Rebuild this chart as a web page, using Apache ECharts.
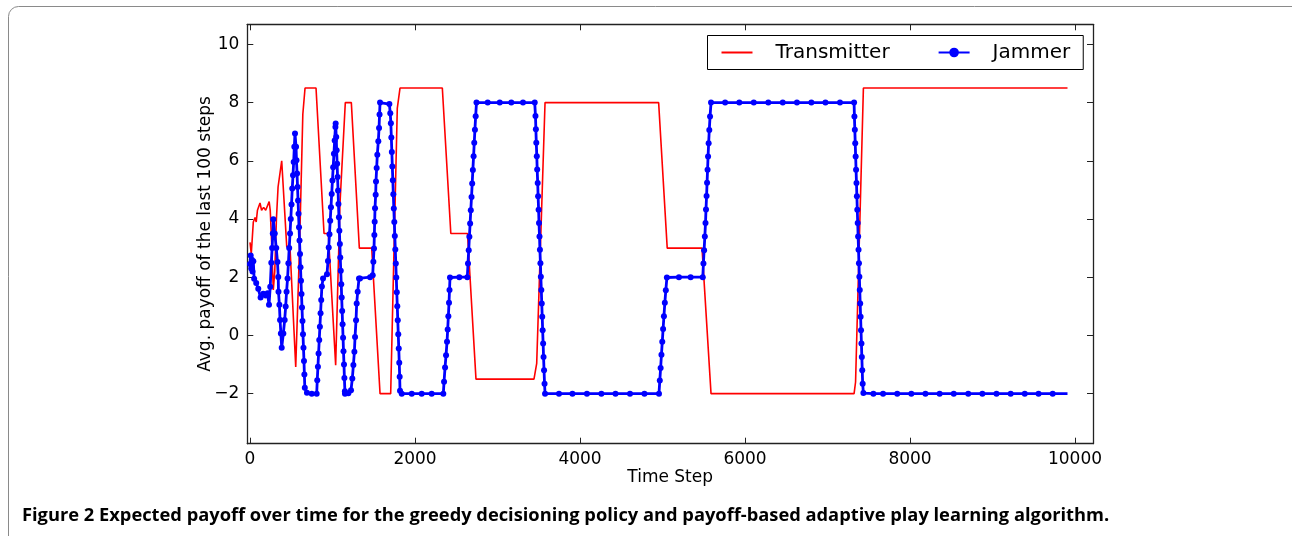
<!DOCTYPE html>
<html>
<head>
<meta charset="utf-8">
<script src="https://cdn.jsdelivr.net/npm/echarts@6/dist/echarts.min.js"></script>
<style>
  html, body { margin: 0; padding: 0; background: #fff; }
  #chart { width: 1292px; height: 536px; }
</style>
</head>
<body>
<div id="chart"></div>
<script>
// Average payoff over the last 100 steps, [time step, payoff]
const transmitter = [
  [0, 3.2], [15, 2.8], [40, 3.9], [61, 4.05], [75, 3.9], [90, 4.3], [121, 4.55],
  [140, 4.3], [165, 4.4], [190, 4.3], [210, 4.35], [232, 4.6], [245, 4.3],
  [262, 3.2], [282, 1.56], [300, 2.2], [320, 4.0], [340, 5.1], [384, 6.0],
  [445, 3.05], [485, 3.0], [554, -1.08], [600, 3.0], [640, 7.6], [667, 8.5],
  [800, 8.5], [897, 3.5], [949, 3.5], [1038, -1.02], [1090, 4.5], [1155, 8.0],
  [1228, 8.0], [1325, 3.0], [1475, 3.0], [1576, -2.0], [1705, -2.0],
  [1785, 7.8], [1818, 8.5], [2331, 8.5], [2434, 3.5], [2636, 3.5],
  [2739, -1.5], [3442, -1.5], [3475, -0.96], [3576, 8.0], [4953, 8.0],
  [5057, 3.0], [5479, 3.0], [5588, -2.0], [7322, -2.0], [7340, -1.6],
  [7435, 8.5], [9909, 8.5]
];

const jammer = [
  [0, 2.45], [8, 2.75], [15, 2.3], [22, 2.6], [30, 2.2], [40, 2.55], [50, 1.95],
  [75, 1.8], [100, 1.6], [128, 1.3], [160, 1.43], [190, 1.37], [213, 1.45], [230, 1.05],
  [245, 1.67], [258, 2.5], [268, 3.0], [276, 3.5], [282, 3.99],
  [300, 3.5], [318, 3.0], [333, 2.52], [342, 2.01], [345, 1.5], [356, 1.05],
  [364, 0.53], [374, 0.07], [384, -0.42],
  [404, 0.07], [420, 0.53], [432, 0.99], [443, 1.5], [455, 1.96], [465, 2.48],
  [475, 3.0], [485, 3.5], [494, 4.0], [503, 4.5], [512, 5.05], [521, 5.5],
  [529, 5.96], [537, 6.48], [545, 6.94],
  [558, 6.48], [563, 6.02], [570, 5.56], [576, 5.10], [582, 4.64], [588, 4.18],
  [594, 3.72], [600, 3.26], [606, 2.80], [612, 2.34], [618, 1.88], [624, 1.42],
  [630, 0.96], [636, 0.50], [642, 0.04], [648, -0.42], [654, -0.88], [659, -1.34],
  [664, -1.80], [690, -1.97], [748, -2.0], [808, -2.0],
  [815, -1.54], [823, -1.08], [831, -0.62], [839, -0.16], [847, 0.30], [855, 0.76],
  [863, 1.22], [871, 1.68], [885, 1.96], [933, 2.1],
  [945, 2.56], [954, 3.02], [963, 3.48], [972, 3.94], [981, 4.40], [990, 4.86],
  [999, 5.32], [1008, 5.78], [1017, 6.24], [1026, 6.70], [1035, 7.16], [1038, 7.28],
  [1045, 6.82], [1050, 6.36], [1056, 5.90], [1061, 5.44], [1067, 4.98], [1072, 4.52],
  [1078, 4.06], [1083, 3.60], [1089, 3.14], [1094, 2.68], [1100, 2.22], [1106, 1.76],
  [1111, 1.30], [1117, 0.84], [1122, 0.38], [1128, -0.08], [1133, -0.54], [1139, -1.00],
  [1144, -1.46], [1150, -1.92],
  [1151, -2.0], [1192, -1.99], [1224, -1.88], [1240, -1.48], [1253, -1.02],
  [1265, -0.56], [1273, -0.05], [1285, 0.52], [1293, 1.1], [1305, 1.5], [1321, 1.96],
  [1333, 1.96], [1455, 2.0], [1487, 2.07],
  [1495, 2.53], [1503, 2.99], [1507, 3.45], [1511, 3.91], [1515, 4.37], [1523, 4.83],
  [1527, 5.29], [1535, 5.75], [1543, 6.21], [1555, 6.67], [1564, 7.13], [1570, 7.59],
  [1576, 8.0], [1689, 7.95],
  [1700, 7.63], [1707, 7.29], [1713, 6.8], [1719, 6.3], [1725, 5.8], [1731, 5.33],
  [1737, 4.85], [1743, 4.36], [1749, 3.9], [1755, 3.42], [1761, 2.95], [1767, 2.47],
  [1773, 1.99], [1779, 1.48], [1785, 1.0], [1791, 0.52], [1797, 0.04], [1803, -0.45],
  [1809, -0.94], [1814, -1.42], [1818, -1.9],
  [1839, -2.0], [1960, -2.0], [2081, -2.0], [2202, -2.0], [2343, -2.0],
  [2352, -1.59], [2364, -1.1], [2376, -0.68], [2388, -0.22], [2396, 0.2], [2404, 0.66],
  [2412, 1.12], [2418, 1.56], [2424, 1.99],
  [2537, 2.0], [2634, 2.0],
  [2642, 2.47], [2651, 2.93], [2659, 3.39], [2668, 3.85], [2676, 4.3], [2685, 4.76],
  [2693, 5.22], [2701, 5.68], [2710, 6.16], [2718, 6.62], [2726, 7.07], [2735, 7.53],
  [2745, 8.0],
  [2881, 8.0], [3027, 8.0], [3167, 8.0], [3309, 8.0], [3451, 8.0],
  [3460, 7.54], [3465, 7.08], [3470, 6.62], [3476, 6.16], [3481, 5.70], [3487, 5.24],
  [3492, 4.78], [3498, 4.32], [3503, 3.86], [3509, 3.40], [3514, 2.94], [3520, 2.48],
  [3525, 2.02], [3531, 1.56], [3536, 1.10], [3542, 0.64], [3547, 0.18], [3553, -0.28],
  [3558, -0.74], [3564, -1.20], [3570, -1.66], [3576, -2.0],
  [3745, -2.0], [3908, -2.0], [4084, -2.0], [4259, -2.0], [4430, -2.0], [4606, -2.0],
  [4781, -2.0], [4957, -2.0],
  [4967, -1.55], [4977, -1.12], [4987, -0.66], [4997, -0.22], [5007, 0.22],
  [5017, 0.66], [5028, 1.12], [5040, 1.55], [5053, 1.99],
  [5199, 2.0], [5341, 2.0], [5488, 2.0],
  [5496, 2.47], [5504, 2.93], [5513, 3.40], [5521, 3.86], [5527, 4.33], [5534, 4.79],
  [5540, 5.25], [5546, 5.69], [5552, 6.15], [5559, 6.60], [5567, 7.06], [5576, 7.52],
  [5588, 8.0],
  [5759, 8.0], [5931, 8.0], [6106, 8.0], [6282, 8.0], [6457, 8.0], [6629, 8.0],
  [6804, 8.0], [6975, 8.0], [7151, 8.0], [7322, 8.0],
  [7326, 7.52], [7331, 7.07], [7336, 6.60], [7341, 6.15], [7346, 5.69], [7351, 5.24],
  [7356, 4.78], [7361, 4.32], [7366, 3.86], [7371, 3.40], [7376, 2.94], [7381, 2.48],
  [7386, 2.02], [7391, 1.56], [7396, 1.10], [7401, 0.64], [7406, 0.18], [7411, -0.28],
  [7416, -0.74], [7421, -1.20], [7426, -1.66], [7435, -1.98],
  [7556, -2.0], [7673, -2.0], [7845, -2.0], [8016, -2.0], [8187, -2.0], [8359, -2.0],
  [8530, -2.0], [8706, -2.0], [8877, -2.0], [9048, -2.0], [9220, -2.0], [9391, -2.0],
  [9558, -2.0], [9729, -2.0], [9909, -2.0]
];

const xTicks = [0, 2000, 4000, 6000, 8000, 10000];
const yTicks = [-2, 0, 2, 4, 6, 8, 10];
const seriesNames = ['Transmitter', 'Jammer'];
const xTitle = 'Time Step';
const yTitle = 'Avg. payoff of the last 100 steps';
const caption = 'Figure 2 Expected payoff over time for the greedy decisioning policy and payoff-based adaptive play learning algorithm.';

const FONT = 'DejaVu Sans';
const X_RANGE = [-33, 10218];
const Y_RANGE = [-3.72, 10.69];
const frameLine = { show: true, onZero: false, lineStyle: { color: '#222', width: 1.3 } };
const innerTicks = (vals) => ({ show: true, inside: true, length: 6, customValues: vals, lineStyle: { color: '#222', width: 1 } });
const minusSign = (v) => (v < 0 ? '\u2212' + Math.abs(v) : String(v));

const chart = echarts.init(document.getElementById('chart'), null, { renderer: 'canvas' });

chart.setOption({
  animation: false,
  backgroundColor: '#fff',
  grid: { left: 247.3, top: 24.3, width: 845.7, height: 419.4, containLabel: false },
  legend: {
    // the transmitter key is a plain line, the jammer key carries its marker
    data: [
      { name: seriesNames[0], itemStyle: { opacity: 0 } },
      { name: seriesNames[1] }
    ],
    left: 707.5, top: 35.5,
    itemWidth: 31, itemHeight: 12, itemGap: 48,
    padding: [7, 13, 7, 13],
    borderColor: '#000', borderWidth: 1,
    textStyle: { fontFamily: FONT, fontSize: 20, color: '#000', padding: [0, 0, 0, 18] }
  },
  xAxis: [
    {
      type: 'value', min: X_RANGE[0], max: X_RANGE[1], position: 'bottom',
      axisLine: frameLine, axisTick: innerTicks(xTicks), splitLine: { show: false },
      axisLabel: { customValues: xTicks, fontFamily: FONT, fontSize: 17, color: '#000', margin: 7, formatter: minusSign },
      name: xTitle, nameLocation: 'middle', nameGap: 25, nameMoveOverlap: false,
      nameTextStyle: { fontFamily: FONT, fontSize: 17, color: '#000' }
    },
    {
      type: 'value', min: X_RANGE[0], max: X_RANGE[1], position: 'top',
      axisLine: frameLine, axisTick: innerTicks(xTicks), splitLine: { show: false },
      axisLabel: { show: false }
    }
  ],
  yAxis: [
    {
      type: 'value', min: Y_RANGE[0], max: Y_RANGE[1], position: 'left',
      axisLine: frameLine, axisTick: innerTicks(yTicks), splitLine: { show: false },
      axisLabel: { customValues: yTicks, fontFamily: FONT, fontSize: 17, color: '#000', margin: 8, formatter: minusSign },
      name: yTitle, nameLocation: 'middle', nameGap: 33, nameRotate: 90, nameMoveOverlap: false,
      nameTextStyle: { fontFamily: FONT, fontSize: 17, color: '#000' }
    },
    {
      type: 'value', min: Y_RANGE[0], max: Y_RANGE[1], position: 'right',
      axisLine: frameLine, axisTick: innerTicks(yTicks), splitLine: { show: false },
      axisLabel: { show: false }
    }
  ],
  series: [
    {
      name: seriesNames[0], type: 'line', data: transmitter,
      symbol: 'none', showSymbol: false,
      lineStyle: { color: '#ff0000', width: 1.6 },
      itemStyle: { color: '#ff0000' },
      z: 2
    },
    {
      name: seriesNames[1], type: 'line',
      data: jammer.map((p, i) => (i === jammer.length - 1 ? { value: p, symbol: 'none' } : p)),
      symbol: 'circle', symbolSize: 6, showSymbol: true, showAllSymbol: true,
      lineStyle: { color: '#0000ff', width: 2.8 },
      itemStyle: { color: '#0000ff' },
      z: 3
    }
  ],
  graphic: [
    {
      type: 'rect', z: -1, silent: true,
      shape: { x: 8.5, y: 6.5, width: 1300, height: 560, r: 10 },
      style: { fill: 'none', stroke: '#8a8a8a', lineWidth: 1 }
    },
    {
      type: 'text', left: 22, top: 507,
      style: { text: caption, font: 'bold 18.3px "Open Sans"', fill: '#000' }
    }
  ]
});
</script>
</body>
</html>
